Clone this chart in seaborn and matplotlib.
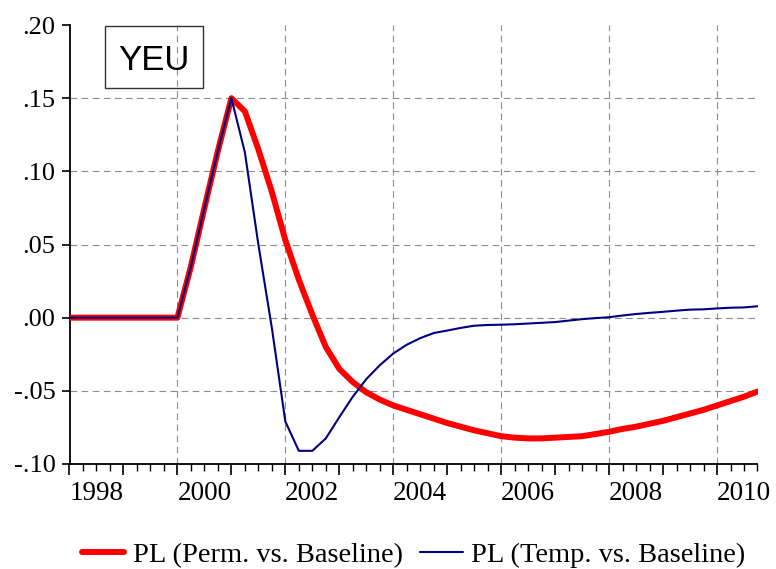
import numpy as np
import pandas as pd
import matplotlib
matplotlib.use("Agg")
import matplotlib.pyplot as plt
import matplotlib.ticker as mticker
from matplotlib.patches import Rectangle
import seaborn as sns

# quarterly sample 1998Q1 - 2010Q4
quarters = pd.period_range("1998Q1", "2010Q4", freq="Q")

# PL, permanent shock vs baseline
perm = [0, 0, 0, 0, 0, 0, 0, 0, 0,
        0.035, 0.075, 0.114,
        0.150, 0.141, 0.115, 0.086,
        0.053, 0.026, 0.002, -0.020,
        -0.035, -0.044, -0.051, -0.056,
        -0.060, -0.063, -0.066, -0.069,
        -0.072, -0.0745, -0.077, -0.079,
        -0.081, -0.082, -0.0825, -0.0825,
        -0.082, -0.0815, -0.081, -0.0795,
        -0.078, -0.076, -0.0745, -0.0725,
        -0.0705, -0.068, -0.0655, -0.063,
        -0.060, -0.057, -0.054, -0.0505]

# PL, temporary shock vs baseline
temp = [0, 0, 0, 0, 0, 0, 0, 0, 0,
        0.035, 0.075, 0.114,
        0.150, 0.113, 0.050, -0.007,
        -0.071, -0.091, -0.091, -0.0825,
        -0.068, -0.054, -0.042, -0.0325,
        -0.0245, -0.0185, -0.014, -0.0105,
        -0.0088, -0.007, -0.0055, -0.005,
        -0.0048, -0.0045, -0.004, -0.0035,
        -0.003, -0.002, -0.001, -0.0003,
        0.0003, 0.0015, 0.0025, 0.0033,
        0.004, 0.0048, 0.0055, 0.0057,
        0.0063, 0.0068, 0.0070, 0.0078]

year_labels = ["1998", "2000", "2002", "2004", "2006", "2008", "2010"]
grid_years = [2000, 2002, 2004, 2006, 2008, 2010]
y_ticks = [-0.10, -0.05, 0.00, 0.05, 0.10, 0.15, 0.20]
y_grid = [-0.05, 0.00, 0.05, 0.10, 0.15]

df = pd.DataFrame({
    "t": quarters.year + (quarters.quarter - 1) / 4.0,
    "perm": perm,
    "temp": temp,
})

sns.set_style("white")
plt.rcParams["font.family"] = ["Liberation Serif", "DejaVu Serif"]
plt.rcParams["text.color"] = "black"
plt.rcParams["xtick.color"] = "black"
plt.rcParams["ytick.color"] = "black"

fig = plt.figure(figsize=(7.76, 5.69), dpi=100)
ax = fig.add_axes([69.5 / 776, 1 - 464 / 569, 688 / 776, 439 / 569])

# grid first so it sits under the lines
for g in grid_years:
    ax.axvline(g, color="#8c8c8c", lw=0.8, ls=(0, (6, 4)), zorder=0)
for g in y_grid:
    ax.axhline(g, color="#8c8c8c", lw=0.8, ls=(0, (6, 4)), zorder=0)

sns.lineplot(data=df, x="t", y="perm", ax=ax, color="#ff0000", lw=4.3,
             label="PL (Perm. vs. Baseline)", zorder=3)
sns.lineplot(data=df, x="t", y="temp", ax=ax, color="#000080", lw=1.5,
             label="PL (Temp. vs. Baseline)", zorder=4)

ax.set_xlim(1998, 2010.75)
ax.set_ylim(-0.10, 0.20)
ax.set_xlabel("")
ax.set_ylabel("")

# axes frame: only left and bottom
for s in ["top", "right"]:
    ax.spines[s].set_visible(False)
for s in ["left", "bottom"]:
    ax.spines[s].set_color("black")
    ax.spines[s].set_linewidth(1.3)

# year ticks long, quarter ticks short, labels in middle of the year
ax.xaxis.set_major_locator(mticker.MultipleLocator(1))
ax.xaxis.set_minor_locator(mticker.MultipleLocator(0.25))
ax.tick_params(axis="x", which="major", bottom=True, length=8, width=1.2,
               labelbottom=False, direction="out")
ax.tick_params(axis="x", which="minor", bottom=True, length=5, width=1.0,
               direction="out")
sec = ax.secondary_xaxis("bottom")
sec.set_xticks([int(y) + 0.5 for y in year_labels], labels=year_labels)
sec.xaxis.set_minor_locator(mticker.NullLocator())
sec.tick_params(length=0, pad=12, labelsize=19.5)
sec.spines["bottom"].set_visible(False)

ax.set_yticks(y_ticks)
ax.yaxis.set_major_formatter(
    mticker.FuncFormatter(lambda v, p: f"{v:.2f}".replace("0.", ".")))
ax.tick_params(axis="y", left=True, length=6, width=1.2, pad=4,
               labelsize=19, direction="out")

# title box in upper left
ax.add_patch(Rectangle((35.5 / 688, (464 - 88) / 439), 98 / 688, 62 / 439,
                       transform=ax.transAxes, fill=False, ec="#333333",
                       lw=1.0, zorder=5))
ax.text((154 - 69.5) / 688, (464 - 70) / 439, "YEU", transform=ax.transAxes,
        ha="center", va="baseline", fontsize=25, family="Liberation Sans",
        color="black", zorder=6)

ax.legend(loc="center", bbox_to_anchor=(0.5, -0.207), ncol=2, frameon=False,
          prop={"family": "Liberation Serif", "size": 20.5},
          handlelength=1.5, handletextpad=0.3, columnspacing=0.6)

fig.savefig("out.png", dpi=100)
